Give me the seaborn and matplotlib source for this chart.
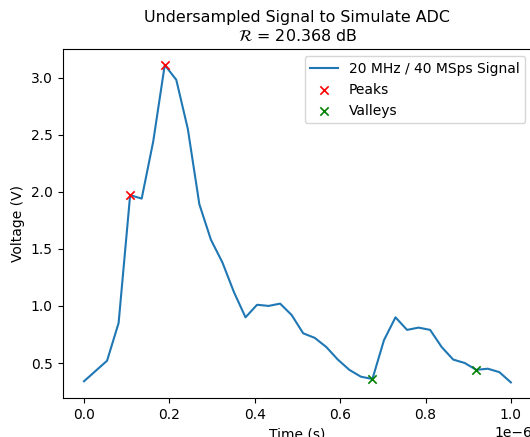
import numpy as np
import matplotlib
matplotlib.use('Agg')
import matplotlib.pyplot as plt
import seaborn as sns

# Signaal bemonsterd op 38 punten tussen 0 en 1 us
tijd = np.linspace(0, 1e-6, 38)
spanning = [0.34, 0.43, 0.52, 0.85, 1.97, 1.94, 2.44, 3.11, 2.98, 2.55,
            1.89, 1.58, 1.38, 1.12, 0.90, 1.01, 1.00, 1.02, 0.92, 0.76,
            0.72, 0.64, 0.53, 0.44, 0.38, 0.36, 0.70, 0.90, 0.79, 0.81,
            0.79, 0.64, 0.53, 0.50, 0.44, 0.45, 0.42, 0.33]
pieken = [4, 7]
dalen = [25, 34]
ratio_db = 20.368

spanning = np.array(spanning)

fig = plt.figure(figsize=(5.3, 4.37), dpi=100)
ax = fig.add_axes([0.1182, 0.0886, 0.886, 0.799])

sns.lineplot(x=tijd, y=spanning, ax=ax, label='20 MHz / 40 MSps Signal',
             color='C0', linewidth=1.5)
sns.scatterplot(x=tijd[pieken], y=spanning[pieken], ax=ax, marker='x',
                color='red', s=36, linewidth=1.2, label='Peaks', zorder=3)
sns.scatterplot(x=tijd[dalen], y=spanning[dalen], ax=ax, marker='x',
                color='green', s=36, linewidth=1.2, label='Valleys', zorder=3)

ax.set_title('Undersampled Signal to Simulate ADC\n'
             r'$\mathcal{R}$ = ' + f'{ratio_db} dB', fontsize=11.4)
ax.set_xlabel('Time (s)')
ax.set_ylabel('Voltage (V)')
ax.legend(loc='upper right')

plt.savefig('out.png', dpi=100)
